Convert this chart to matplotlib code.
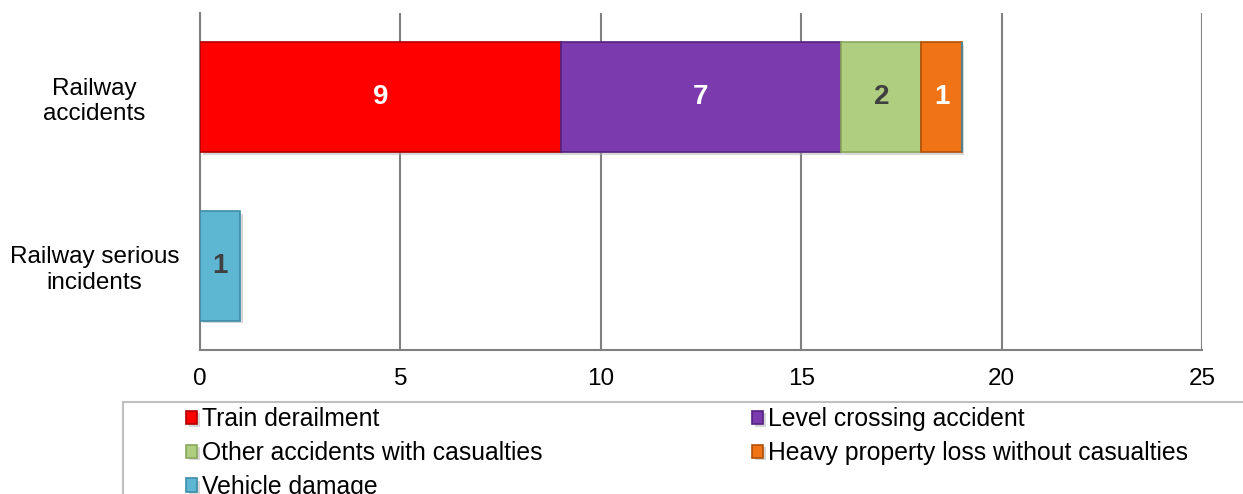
import matplotlib
matplotlib.use("Agg")
import matplotlib.pyplot as plt
from matplotlib.lines import Line2D
import matplotlib.patheffects as pe

plt.rcParams['font.family'] = ['Liberation Sans', 'DejaVu Sans']

categories = ["Railway\naccidents", "Railway serious\nincidents"]
series_names = ["Train derailment", "Level crossing accident",
                "Other accidents with casualties",
                "Heavy property loss without casualties", "Vehicle damage"]
values = {
    "Train derailment": [9, 0],
    "Level crossing accident": [7, 0],
    "Other accidents with casualties": [2, 0],
    "Heavy property loss without casualties": [1, 0],
    "Vehicle damage": [0, 1],
}
colors = ["#FE0000", "#7B3AAD", "#B0CE7F", "#F07315", "#5DB6D2"]
edges = ["#B00000", "#552080", "#8AA85C", "#B05008", "#3C8DA8"]
label_colors = ["white", "white", "#404040", "white", "#404040"]
x_ticks = [0, 5, 10, 15, 20, 25]

W, H = 1243, 494
fig = plt.figure(figsize=(W / 100, H / 100), dpi=100)
ax = fig.add_axes([200 / W, 1 - 350 / H, 1002 / W, 337 / H])

ypos = list(range(len(categories)))
left = [0.0] * len(categories)
handles = {}
for name, c, ec, lc in zip(series_names, colors, edges, label_colors):
    vals = values[name]
    bars = ax.barh(ypos, vals, left=left, height=0.65, color=c, edgecolor=ec,
                   linewidth=1.2, zorder=3,
                   path_effects=[pe.SimplePatchShadow(offset=(2, -2), shadow_rgbFace='#b0b0b0', alpha=0.5), pe.Normal()])
    handles[name] = bars
    for i, v in enumerate(vals):
        if v > 0:
            ax.text(left[i] + v / 2, ypos[i], str(v), ha='center', va='center',
                    color=lc, fontsize=20, fontweight='bold', zorder=4)
    left = [l + v for l, v in zip(left, vals)]

ax.set_xlim(0, 25)
ax.set_ylim(1.5, -0.5)
ax.set_xticks(x_ticks)
ax.set_xticklabels([str(t) for t in x_ticks], fontsize=17.5)
ax.set_yticks(ypos)
ax.set_yticklabels(categories, fontsize=17.5, linespacing=1.2, ha='center')
ax.tick_params(axis='y', length=0, pad=76)
ax.tick_params(axis='x', length=0, pad=13)
ax.xaxis.grid(True, color='#808080', linewidth=1.5, zorder=0)
ax.set_axisbelow(True)
for s in ['top', 'right']:
    ax.spines[s].set_visible(False)
for s in ['left', 'bottom']:
    ax.spines[s].set_color('#808080')
    ax.spines[s].set_linewidth(1.5)

# legend frame (partially cut off in the reference)
fig.add_artist(Line2D([123 / W, 1.0], [1 - 402 / H] * 2, color='#c0c0c0', lw=1.5, transform=fig.transFigure))
fig.add_artist(Line2D([123 / W] * 2, [0, 1 - 402 / H], color='#c0c0c0', lw=1.5, transform=fig.transFigure))

order = ["Train derailment", "Other accidents with casualties", "Vehicle damage",
         "Level crossing accident", "Heavy property loss without casualties"]
leg = fig.legend([handles[n] for n in order], order, ncol=2, frameon=False,
                 fontsize=17.8, loc='upper left', bbox_to_anchor=(186 / W, 1 - 407 / H),
                 handlelength=0.44, handleheight=0.44, handletextpad=0.2,
                 labelspacing=0.4, columnspacing=8.5, borderaxespad=0, borderpad=0)

fig.savefig("out.png", dpi=100)
